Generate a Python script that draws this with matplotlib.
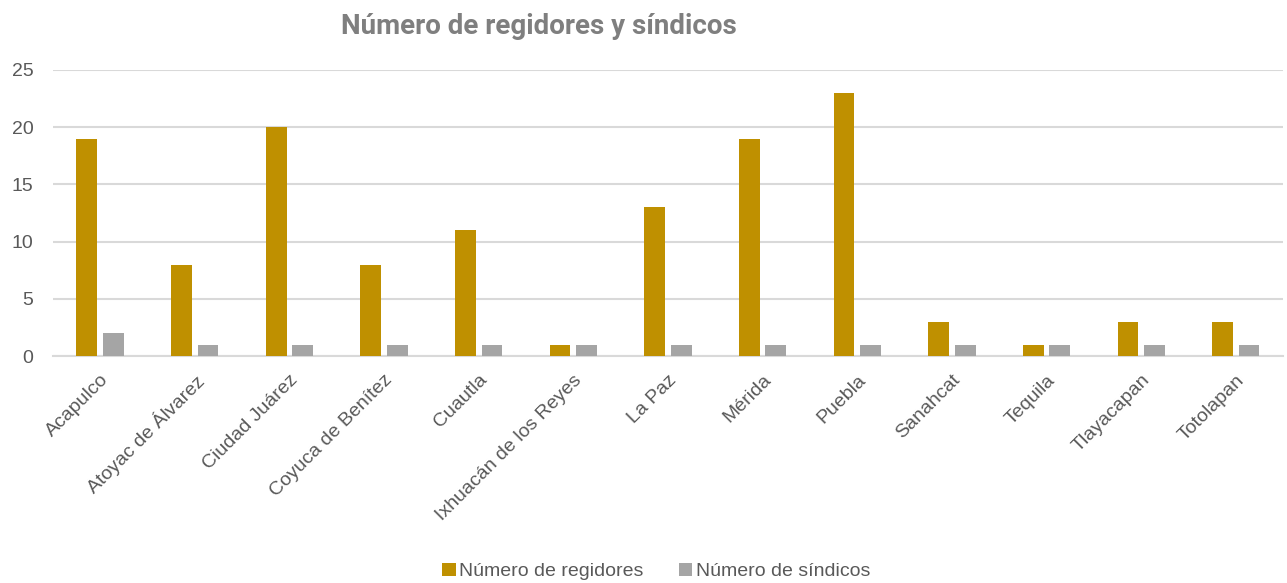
import matplotlib
matplotlib.use("Agg")
import matplotlib.pyplot as plt
import numpy as np

# datos
municipios = ["Acapulco", "Atoyac de Álvarez", "Ciudad Juárez", "Coyuca de Benítez",
              "Cuautla", "Ixhuacán de los Reyes", "La Paz", "Mérida", "Puebla",
              "Sanahcat", "Tequila", "Tlayacapan", "Totolapan"]
regidores = [19, 8, 20, 8, 11, 1, 13, 19, 23, 3, 1, 3, 3]
sindicos = [2, 1, 1, 1, 1, 1, 1, 1, 1, 1, 1, 1, 1]

plt.rcParams['font.family'] = ['Liberation Sans', 'DejaVu Sans']
txt = '#595959'

fig = plt.figure(figsize=(12.87, 5.83), dpi=100)
ax = fig.add_axes([0.041, 0.389, 0.956, 0.491])

x = np.arange(len(municipios))
w = 0.22
ax.bar(x - 0.14, regidores, w, color='#BF9000', label='Número de regidores', zorder=3)
ax.bar(x + 0.14, sindicos, w, color='#A5A5A5', label='Número de síndicos', zorder=3)

ax.set_xlim(-0.5, len(municipios) - 0.5)
ax.set_ylim(0, 25)
ax.set_yticks(range(0, 26, 5))
ax.yaxis.grid(True, color='#D9D9D9', linewidth=1.5, zorder=0)
for s in ['top', 'right', 'left']:
    ax.spines[s].set_visible(False)
ax.spines['bottom'].set_color('#D9D9D9')
ax.spines['bottom'].set_linewidth(1.5)
ax.tick_params(axis='both', length=0, labelsize=14, colors=txt)
ax.tick_params(axis='y', pad=14)
ax.tick_params(axis='x', pad=11)
ax.set_xticks(x)
ax.set_xticklabels(municipios, rotation=45, ha='right', rotation_mode='anchor')

fig.text(0.419, 0.955, 'Número de regidores y síndicos', ha='center', va='center',
         fontsize=20, fontweight='bold', color='#7F7F7F', family='Roboto')

fig.legend(loc='center', bbox_to_anchor=(0.51, 0.02), ncol=2, frameon=False,
           fontsize=14, labelcolor=txt, handlelength=0.7, handleheight=0.7,
           handletextpad=0.2, columnspacing=1.8)

fig.savefig('out.png', dpi=100)
